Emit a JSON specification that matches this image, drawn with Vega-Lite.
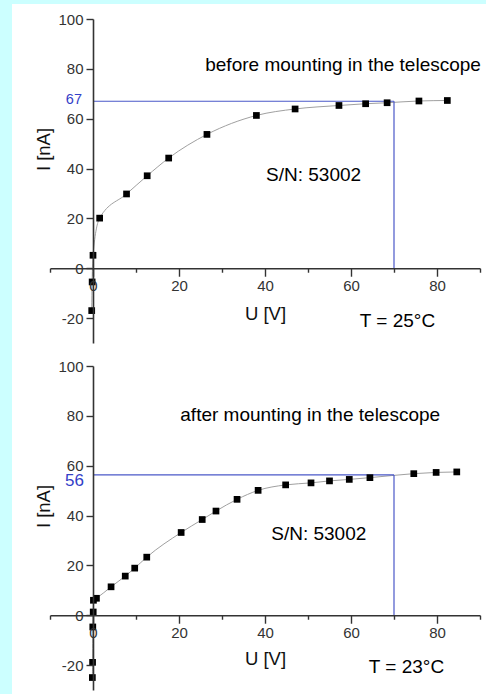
{
  "$schema": "https://vega.github.io/schema/vega-lite/v6.json",
  "background": "#ccffff",
  "padding": {"left": 11, "top": 4, "right": 0, "bottom": 0},
  "autosize": {"type": "pad"},
  "spacing": 23,
  "bounds": "flush",
  "config": {"font": "Liberation Sans", "view": {"stroke": null}},
  "datasets": {
    "before": [
      {"U": -0.3, "I": -17}, {"U": -0.2, "I": -5.5}, {"U": 0, "I": 5.2}, {"U": 1.55, "I": 20.1},
      {"U": 7.8, "I": 29.8}, {"U": 12.6, "I": 37.1}, {"U": 17.6, "I": 44.2}, {"U": 26.5, "I": 53.7},
      {"U": 38, "I": 61.3}, {"U": 47, "I": 63.9}, {"U": 57.2, "I": 65.3}, {"U": 63.4, "I": 66},
      {"U": 68.4, "I": 66.4}, {"U": 75.8, "I": 67.1}, {"U": 82.4, "I": 67.3}
    ],
    "after": [
      {"U": -0.15, "I": -25}, {"U": -0.1, "I": -18.9}, {"U": -0.05, "I": -4.7}, {"U": 0.05, "I": 1.3},
      {"U": 0.1, "I": 6.0}, {"U": 0.8, "I": 6.8}, {"U": 4.2, "I": 11.4}, {"U": 7.5, "I": 15.7},
      {"U": 9.7, "I": 18.9}, {"U": 12.5, "I": 23.3}, {"U": 20.5, "I": 33.2}, {"U": 25.4, "I": 38.4},
      {"U": 28.6, "I": 41.8}, {"U": 33.5, "I": 46.5}, {"U": 38.4, "I": 50.1}, {"U": 44.8, "I": 52.3},
      {"U": 50.7, "I": 53.1}, {"U": 55, "I": 53.9}, {"U": 59.6, "I": 54.5}, {"U": 64.4, "I": 55.2},
      {"U": 74.6, "I": 56.8}, {"U": 79.8, "I": 57.3}, {"U": 84.6, "I": 57.5}
    ]
  },
  "vconcat": [
    {
      "width": 430,
      "height": 324,
      "layer": [
        {
          "data": {"values": [{}]},
          "mark": {"type": "rect", "color": "white", "clip": false},
          "encoding": {
            "x": {"datum": -18.84, "type": "quantitative", "scale": {"domain": [-10, 90], "nice": false, "zero": false},
              "axis": {"orient": "bottom", "offset": -74.77, "zindex": 1, "values": [-10, 0, 10, 20, 30, 40, 50, 60, 70, 80, 90],
                "labelExpr": "datum.value % 20 === 0 ? datum.label : ''",
                "tickSize": {"condition": {"test": "datum.value % 20 === 0", "value": 8}, "value": 4},
                "domainColor": "#333333", "domainWidth": 1.6, "tickColor": "#333333", "tickWidth": 1.4,
                "labelFontSize": 15, "labelColor": "#333333", "labelPadding": 2, "labelFlush": false, "labelOverlap": false,
                "title": "U [V]", "titleFontSize": 18.5, "titleFontWeight": "normal", "titleColor": "#111111", "titlePadding": 11, "grid": false}},
            "x2": {"datum": 91.63},
            "y": {"datum": 106, "type": "quantitative", "scale": {"domain": [-30, 100], "nice": false, "zero": false},
              "axis": {"orient": "left", "offset": -43, "zindex": 1, "values": [-20, 0, 20, 40, 60, 80, 100],
                "labelExpr": "toString(datum.value)",
                "tickSize": 7,
                "domainColor": "#333333", "domainWidth": 1.6, "tickColor": "#333333", "tickWidth": 1.4,
                "labelFontSize": 15, "labelColor": "#333333", "labelPadding": 3, "labelFlush": false, "labelOverlap": false,
                "title": "I [nA]", "titleFontSize": 18.5, "titleFontWeight": "normal", "titleColor": "#111111", "titlePadding": 4, "titleY": 130, "grid": false}},
            "y2": {"datum": -39.3}
          }
        },
        {
          "data": {"name": "before"},
          "mark": {"type": "line", "color": "#a0a0a0", "strokeWidth": 1, "interpolate": "monotone"},
          "encoding": {"x": {"field": "U", "type": "quantitative"}, "y": {"field": "I", "type": "quantitative"}}
        },
        {
          "data": {"values": [{}]},
          "mark": {"type": "rule", "color": "#4a58c8", "strokeWidth": 1.2},
          "encoding": {"x": {"datum": 0, "type": "quantitative"}, "x2": {"datum": 70}, "y": {"datum": 67, "type": "quantitative"}}
        },
        {
          "data": {"values": [{}]},
          "mark": {"type": "rule", "color": "#4a58c8", "strokeWidth": 1.2},
          "encoding": {"x": {"datum": 70, "type": "quantitative"}, "y": {"datum": 0, "type": "quantitative"}, "y2": {"datum": 67}}
        },
        {
          "data": {"name": "before"},
          "mark": {"type": "square", "color": "black", "filled": true, "opacity": 1, "size": 45},
          "encoding": {"x": {"field": "U", "type": "quantitative"}, "y": {"field": "I", "type": "quantitative"}}
        },
        {
          "data": {"values": [{}]},
          "mark": {"type": "text", "text": "67", "color": "#3340c8", "fontSize": 14.5, "align": "right", "baseline": "middle", "dx": -11},
          "encoding": {"x": {"datum": 0, "type": "quantitative"}, "y": {"datum": 67.3, "type": "quantitative"}}
        },
        {
          "data": {"values": [{}]},
          "mark": {"type": "text", "text": "before mounting in the telescope", "color": "black", "fontSize": 19, "align": "left", "baseline": "middle"},
          "encoding": {"x": {"datum": 26.1, "type": "quantitative"}, "y": {"datum": 81.5, "type": "quantitative"}}
        },
        {
          "data": {"values": [{}]},
          "mark": {"type": "text", "text": "S/N: 53002", "color": "black", "fontSize": 19, "align": "center", "baseline": "middle"},
          "encoding": {"x": {"datum": 51.3, "type": "quantitative"}, "y": {"datum": 37.3, "type": "quantitative"}}
        },
        {
          "data": {"values": [{}]},
          "mark": {"type": "text", "text": "T = 25°C", "color": "black", "fontSize": 19, "align": "center", "baseline": "middle"},
          "encoding": {"x": {"datum": 70.8, "type": "quantitative"}, "y": {"datum": -21.3, "type": "quantitative"}}
        }
      ]
    },
    {
      "width": 430,
      "height": 324,
      "layer": [
        {
          "data": {"values": [{}]},
          "mark": {"type": "rect", "color": "white", "clip": false},
          "encoding": {
            "x": {"datum": -18.84, "type": "quantitative", "scale": {"domain": [-10, 90], "nice": false, "zero": false},
              "axis": {"orient": "bottom", "offset": -74.77, "zindex": 1, "values": [-10, 0, 10, 20, 30, 40, 50, 60, 70, 80, 90],
                "labelExpr": "datum.value % 20 === 0 ? datum.label : ''",
                "tickSize": {"condition": {"test": "datum.value % 20 === 0", "value": 8}, "value": 4},
                "domainColor": "#333333", "domainWidth": 1.6, "tickColor": "#333333", "tickWidth": 1.4,
                "labelFontSize": 15, "labelColor": "#333333", "labelPadding": 2, "labelFlush": false, "labelOverlap": false,
                "title": "U [V]", "titleFontSize": 18.5, "titleFontWeight": "normal", "titleColor": "#111111", "titlePadding": 9, "grid": false}},
            "x2": {"datum": 91.63},
            "y": {"datum": 100, "type": "quantitative", "scale": {"domain": [-30, 100], "nice": false, "zero": false},
              "axis": {"orient": "left", "offset": -43, "zindex": 1, "values": [-20, 0, 20, 40, 60, 80, 100],
                "labelExpr": "toString(datum.value)",
                "tickSize": 7,
                "domainColor": "#333333", "domainWidth": 1.6, "tickColor": "#333333", "tickWidth": 1.4,
                "labelFontSize": 15, "labelColor": "#333333", "labelPadding": 3, "labelFlush": false, "labelOverlap": false,
                "title": "I [nA]", "titleFontSize": 18.5, "titleFontWeight": "normal", "titleColor": "#111111", "titlePadding": 4, "titleY": 140, "grid": false}},
            "y2": {"datum": -31.6}
          }
        },
        {
          "data": {"name": "after"},
          "mark": {"type": "line", "color": "#a0a0a0", "strokeWidth": 1, "interpolate": "monotone"},
          "encoding": {"x": {"field": "U", "type": "quantitative"}, "y": {"field": "I", "type": "quantitative"}}
        },
        {
          "data": {"values": [{}]},
          "mark": {"type": "rule", "color": "#4a58c8", "strokeWidth": 1.2},
          "encoding": {"x": {"datum": 0, "type": "quantitative"}, "x2": {"datum": 70}, "y": {"datum": 56.3, "type": "quantitative"}}
        },
        {
          "data": {"values": [{}]},
          "mark": {"type": "rule", "color": "#4a58c8", "strokeWidth": 1.2},
          "encoding": {"x": {"datum": 70, "type": "quantitative"}, "y": {"datum": 0, "type": "quantitative"}, "y2": {"datum": 56.3}}
        },
        {
          "data": {"name": "after"},
          "mark": {"type": "square", "color": "black", "filled": true, "opacity": 1, "size": 45},
          "encoding": {"x": {"field": "U", "type": "quantitative"}, "y": {"field": "I", "type": "quantitative"}}
        },
        {
          "data": {"values": [{}]},
          "mark": {"type": "text", "text": "56", "color": "#3340c8", "fontSize": 17, "align": "right", "baseline": "middle", "dx": -9},
          "encoding": {"x": {"datum": 0, "type": "quantitative"}, "y": {"datum": 53.7, "type": "quantitative"}}
        },
        {
          "data": {"values": [{}]},
          "mark": {"type": "text", "text": "after mounting in the telescope", "color": "black", "fontSize": 19, "align": "left", "baseline": "middle"},
          "encoding": {"x": {"datum": 20.3, "type": "quantitative"}, "y": {"datum": 80.5, "type": "quantitative"}}
        },
        {
          "data": {"values": [{}]},
          "mark": {"type": "text", "text": "S/N: 53002", "color": "black", "fontSize": 19, "align": "center", "baseline": "middle"},
          "encoding": {"x": {"datum": 52.5, "type": "quantitative"}, "y": {"datum": 32.6, "type": "quantitative"}}
        },
        {
          "data": {"values": [{}]},
          "mark": {"type": "text", "text": "T = 23°C", "color": "black", "fontSize": 19, "align": "center", "baseline": "middle"},
          "encoding": {"x": {"datum": 72.9, "type": "quantitative"}, "y": {"datum": -20.9, "type": "quantitative"}}
        }
      ]
    }
  ]
}
